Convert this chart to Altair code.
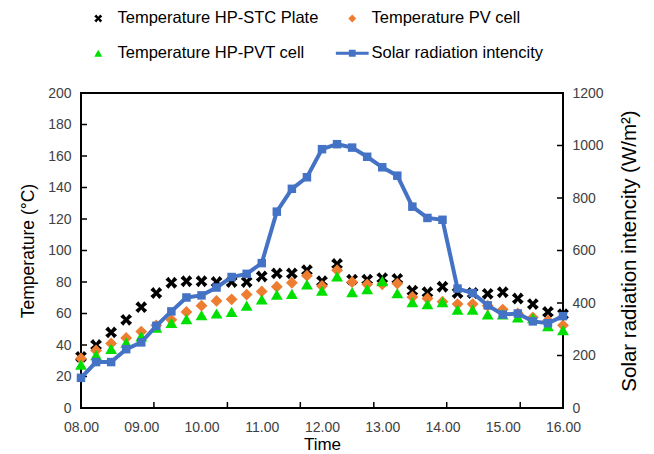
import altair as alt
import pandas as pd

# ---------------- data ----------------
hours = [8.0, 8.25, 8.5, 8.75, 9.0, 9.25, 9.5, 9.75, 10.0, 10.25, 10.5, 10.75,
         11.0, 11.25, 11.5, 11.75, 12.0, 12.25, 12.5, 12.75, 13.0, 13.25, 13.5,
         13.75, 14.0, 14.25, 14.5, 14.75, 15.0, 15.25, 15.5, 15.75, 16.0]

temp_stc = [32.5, 40, 48, 56, 64, 73, 79.5, 80.5, 80.5, 80, 80, 80, 83.5, 85.5,
            85.5, 87.5, 80.5, 91.5, 81.5, 81.5, 82.5, 82, 74.5, 73.5, 77, 73, 73,
            72.5, 73.5, 69.5, 66, 61, 59.5]
temp_pv = [31.5, 36.5, 41, 44.5, 48.5, 52.5, 56, 61, 65, 68, 69, 72, 74, 77,
           79.5, 84, 77.5, 87.5, 80, 78.5, 78.5, 79, 70.5, 69.5, 67.5, 66, 66, 65,
           62.5, 60, 57.5, 55.5, 52.5]
temp_pvt = [27.5, 33.5, 37.5, 41.5, 45.5, 51, 54, 56.5, 59, 60, 61, 65, 69, 72,
            72.5, 78.5, 74.5, 83.5, 73.5, 75.5, 80.5, 73, 67.3, 66, 67.3, 62.5,
            62.5, 59.5, 59.5, 57.5, 57, 52, 49.5]
radiation = [115, 175, 175, 224, 250, 313, 368, 421, 429, 459, 499, 511, 552,
             748, 835, 879, 986, 1005, 992, 957, 917, 885, 767, 724, 717, 455,
             438, 391, 356, 360, 330, 323, 350]

series_names = ["Temperature HP-STC Plate", "Temperature PV cell",
                "Temperature HP-PVT cell", "Solar radiation intencity"]

x_labels = [8, 9, 10, 11, 12, 13, 14, 15, 16]
x_tick_marks = [9.21, 10.43, 11.64, 12.86, 14.07, 15.29]
temp_ticks = [0, 20, 40, 60, 80, 100, 120, 140, 160, 180, 200]
rad_ticks = [0, 200, 400, 600, 800, 1000, 1200]

# ---------------- tables ----------------
temp_df = pd.concat([
    pd.DataFrame({"h": hours, "value": temp_stc, "series": series_names[0]}),
    pd.DataFrame({"h": hours, "value": temp_pv, "series": series_names[1]}),
    pd.DataFrame({"h": hours, "value": temp_pvt, "series": series_names[2]}),
], ignore_index=True)
rad_df = pd.DataFrame({"h": hours, "rad": radiation})
xt_df = pd.DataFrame({"h": x_tick_marks})
tt_df = pd.DataFrame({"value": temp_ticks})
rt_df = pd.DataFrame({"rad": rad_ticks})

# ---------------- styling ----------------
W, H = 482, 315
FONT = "Liberation Sans"
BLUE = "#4472C4"
X_PATH = ("M-1,-0.5L-0.5,-1L0,-0.4L0.5,-1L1,-0.5L0.4,0L1,0.5L0.5,1"
          "L0,0.4L-0.5,1L-1,0.5L-0.4,0Z")
LINE_PATH = "M-4.1,-0.4H4.1V0.4H-4.1Z M-0.85,-0.85H0.85V0.85H-0.85Z"

x_scale = alt.Scale(domain=[8, 16], nice=False, zero=False)
t_scale = alt.Scale(domain=[0, 200], nice=False)
r_scale = alt.Scale(domain=[0, 1200], nice=False)

x_axis = alt.Axis(values=x_labels,
                  labelExpr="(datum.value < 10 ? '0' : '') + datum.value + '.00'",
                  title="Time", ticks=False, domain=False, grid=False,
                  labelFlush=False, labelOverlap=False,
                  labelFont=FONT, labelFontSize=14, labelColor="#404040",
                  labelPadding=12, titleFont=FONT, titleFontSize=17,
                  titleFontWeight="normal", titleColor="#000000", titlePadding=2)
t_axis = alt.Axis(values=temp_ticks, title="Temperature (°C)", ticks=False,
                  domain=False, grid=False, labelFont=FONT, labelFontSize=14,
                  labelColor="#404040", labelPadding=10, titleFont=FONT,
                  titleFontSize=17.5, titleFontWeight="normal",
                  titleColor="#000000", titlePadding=10)
r_axis = alt.Axis(values=rad_ticks, title="Solar radiation intencity (W/m²)",
                  orient="right", format="d", ticks=False, domain=False,
                  grid=False, labelFont=FONT, labelFontSize=14,
                  labelColor="#404040", labelPadding=9, titleFont=FONT,
                  titleFontSize=20.5, titleFontWeight="normal",
                  titleColor="#000000", titlePadding=16, titleAngle=270,
                  titleBaseline="top")

legend = alt.Legend(orient="none", legendX=9, legendY=-83, columns=2,
                    direction="horizontal",
                    title=None, labelFont=FONT, labelFontSize=16.5,
                    labelColor="#000000", labelLimit=400, symbolSize=64,
                    labelOffset=11, columnPadding=16, rowPadding=18,
                    symbolStrokeWidth=0, padding=0)

color_scale = alt.Scale(domain=series_names,
                        range=["#000000", "#ED7D31", "#00E000", BLUE])
shape_scale = alt.Scale(domain=series_names,
                        range=[X_PATH, "diamond", "triangle-up", LINE_PATH])

# ---------------- temperature group ----------------
temp_points = alt.Chart(temp_df).mark_point(filled=True, opacity=1, size=140,
                                             strokeWidth=0).encode(
    x=alt.X("h:Q", scale=x_scale, axis=x_axis),
    y=alt.Y("value:Q", scale=t_scale, axis=t_axis),
    color=alt.Color("series:N", scale=color_scale, legend=legend),
    shape=alt.Shape("series:N", scale=shape_scale, legend=legend),
)
x_ticks = alt.Chart(xt_df).mark_rule(color="#000000", strokeWidth=1.5).encode(
    x=alt.X("h:Q", scale=x_scale, axis=x_axis),
    y=alt.value(H), y2=alt.value(H - 6),
)
t_ticks = alt.Chart(tt_df).mark_rule(color="#000000", strokeWidth=1.5).encode(
    y=alt.Y("value:Q", scale=t_scale, axis=t_axis),
    x=alt.value(0), x2=alt.value(6),
)
temp_group = alt.layer(t_ticks, x_ticks, temp_points)

# ---------------- radiation group ----------------
rad_line = alt.Chart(rad_df).mark_line(color=BLUE, strokeWidth=4).encode(
    x=alt.X("h:Q", scale=x_scale, axis=x_axis),
    y=alt.Y("rad:Q", scale=r_scale, axis=r_axis),
)
rad_points = alt.Chart(rad_df).mark_point(filled=True, opacity=1, size=72,
                                          shape="square", color=BLUE).encode(
    x=alt.X("h:Q", scale=x_scale, axis=x_axis),
    y=alt.Y("rad:Q", scale=r_scale, axis=r_axis),
)
r_ticks = alt.Chart(rt_df).mark_rule(color="#000000", strokeWidth=1.5).encode(
    y=alt.Y("rad:Q", scale=r_scale, axis=r_axis),
    x=alt.value(W - 6), x2=alt.value(W),
)
rad_group = alt.layer(r_ticks, rad_line, rad_points)

chart = alt.layer(temp_group, rad_group).resolve_scale(
    y="independent"
).properties(
    width=W, height=H,
    autosize=alt.AutoSizeParams(type="none"),
    padding={"left": 81, "top": 93, "right": 91, "bottom": 46},
    background="#ffffff",
).configure_view(
    stroke="#000000", strokeWidth=2
)

chart.save("out.html", embed_options={"renderer": "svg", "actions": False})
